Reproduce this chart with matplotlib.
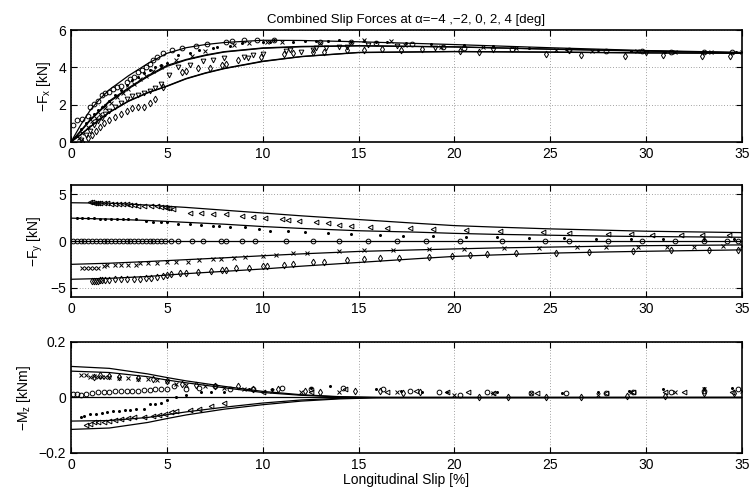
import matplotlib
matplotlib.use("Agg")
import matplotlib.pyplot as plt

plt.rcParams['font.family'] = ['Liberation Sans', 'DejaVu Sans']
plt.rcParams['mathtext.fontset'] = 'custom'
plt.rcParams['mathtext.rm'] = 'Liberation Sans'

# ---- model curves (slip [%] -> value) ----
fx_grid = [0, 0.5, 1, 1.5, 2, 3, 4, 5, 6, 7, 8, 10, 12, 15, 20, 25, 30, 35]
fx_a0 = [0, 0.9, 1.7, 2.3, 2.8, 3.55, 4.2, 4.75, 5.05, 5.22, 5.33, 5.45, 5.44, 5.37, 5.22, 5.05, 4.9, 4.8]
fx_a2 = [0, 0.6, 1.2, 1.7, 2.2, 2.9, 3.55, 4.1, 4.42, 4.66, 4.84, 5.04, 5.12, 5.16, 5.1, 4.98, 4.88, 4.78]
fx_am2 = [0, 0.55, 1.15, 1.65, 2.15, 2.85, 3.5, 4.05, 4.39, 4.63, 4.82, 5.02, 5.1, 5.15, 5.09, 4.97, 4.87, 4.78]
fx_a4 = [0, 0.4, 0.82, 1.22, 1.6, 2.2, 2.65, 3.0, 3.4, 3.7, 3.95, 4.33, 4.58, 4.8, 4.85, 4.82, 4.78, 4.76]
fx_am4 = [0, 0.38, 0.8, 1.2, 1.58, 2.18, 2.63, 2.98, 3.38, 3.68, 3.93, 4.31, 4.57, 4.79, 4.84, 4.81, 4.77, 4.75]

fy_grid = [0, 2, 4, 6, 8, 10, 12, 15, 18, 20, 22, 25, 28, 30, 35]
fy_a4 = [4.1, 4.05, 3.85, 3.6, 3.3, 3.0, 2.7, 2.3, 1.9, 1.65, 1.5, 1.3, 1.15, 1.05, 0.9]
fy_a2 = [2.45, 2.35, 2.2, 2.0, 1.8, 1.55, 1.35, 1.1, 0.95, 0.82, 0.72, 0.62, 0.52, 0.48, 0.4]
fy_a0 = [0, 0, 0, 0, 0, 0, 0, 0, 0, 0, 0, 0, 0, 0, 0]
fy_am2 = [-2.5, -2.38, -2.2, -2.0, -1.8, -1.58, -1.38, -1.12, -0.95, -0.85, -0.75, -0.65, -0.55, -0.5, -0.42]
fy_am4 = [-4.1, -4.0, -3.8, -3.5, -3.25, -3.0, -2.7, -2.3, -1.9, -1.65, -1.5, -1.3, -1.17, -1.1, -0.95]

mz_grid = [0, 2, 4, 5, 6, 8, 10, 12, 14, 16, 35]
mz_am4 = [0.112, 0.105, 0.085, 0.072, 0.06, 0.04, 0.022, 0.01, 0.003, 0.0, 0.0]
mz_am2 = [0.095, 0.09, 0.075, 0.063, 0.053, 0.035, 0.018, 0.008, 0.002, 0.0, 0.0]
mz_a0 = [0, 0, 0, 0, 0, 0, 0, 0, 0, 0, 0]
mz_a2 = [-0.085, -0.083, -0.072, -0.062, -0.052, -0.035, -0.02, -0.009, -0.003, 0.0, 0.0]
mz_a4 = [-0.115, -0.11, -0.09, -0.076, -0.063, -0.042, -0.026, -0.013, -0.005, -0.001, 0.0]

# ---- measurements ----
fx_o_x = [0.1, 0.3, 0.6, 0.9, 1.0, 1.2, 1.4, 1.6, 1.8, 2.0, 2.2, 2.4, 2.6, 2.9, 3.1, 3.3, 3.5, 3.7, 3.9, 4.1, 4.3, 4.5, 4.8, 5.25, 5.8, 6.5, 7.1, 8.1, 8.4, 9.0, 9.7, 10.6, 13.0, 14.6, 15.9, 17.8, 19.4, 20.5, 23.0, 26.0, 27.9, 29.8, 31.3, 33.0, 34.5]
fx_o_y = [0.9, 1.2, 1.25, 1.4, 1.9, 2.05, 2.2, 2.5, 2.6, 2.7, 2.85, 2.95, 3.0, 3.2, 3.35, 3.5, 3.75, 3.85, 4.0, 4.2, 4.4, 4.55, 4.75, 4.93, 5.02, 5.16, 5.23, 5.37, 5.41, 5.46, 5.46, 5.46, 5.37, 5.37, 5.29, 5.23, 5.1, 5.05, 4.98, 4.93, 4.89, 4.89, 4.84, 4.8, 4.8]
fx_dot_x = [0.3, 0.5, 0.8, 1.0, 1.2, 1.4, 1.6, 1.8, 2.0, 2.3, 2.6, 2.9, 3.2, 3.5, 3.8, 4.1, 4.4, 4.7, 5.0, 5.6, 6.2, 6.7, 7.4, 7.6, 8.3, 8.9, 10.0, 10.4, 10.6, 11.6, 12.2, 12.8, 13.4, 14.0, 14.6, 15.3, 15.9, 16.5, 17.5, 18.8, 20.5, 22.0, 23.9, 25.8, 27.5, 29.2, 31.0, 32.9, 34.7]
fx_dot_y = [0.3, 0.7, 1.0, 1.3, 1.5, 1.7, 1.85, 2.0, 2.2, 2.5, 2.8, 3.05, 3.3, 3.5, 3.7, 3.85, 4.0, 4.1, 4.25, 4.66, 4.75, 4.93, 5.02, 5.1, 5.16, 5.29, 5.37, 5.37, 5.46, 5.37, 5.41, 5.41, 5.41, 5.46, 5.37, 5.41, 5.37, 5.37, 5.3, 5.25, 5.2, 5.12, 5.05, 5.0, 4.92, 4.88, 4.82, 4.82, 4.82]
fx_x_x = [0.4, 0.6, 0.9, 1.1, 1.3, 1.5, 1.8, 2.1, 2.4, 2.7, 3.0, 3.3, 3.6, 3.9, 4.3, 4.7, 5.5, 6.3, 7.0, 8.5, 9.3, 10.2, 11.0, 13.0, 15.3, 16.7, 17.4, 19.3, 21.5, 23.2, 25.3, 27.2, 29.5, 31.5, 33.4, 35.0]
fx_x_y = [0.2, 0.5, 0.8, 1.1, 1.3, 1.5, 1.8, 2.1, 2.4, 2.6, 2.85, 3.1, 3.35, 3.55, 3.8, 4.0, 4.4, 4.6, 4.85, 5.2, 5.29, 5.37, 5.35, 5.3, 5.46, 5.4, 5.2, 5.1, 5.08, 5.05, 4.95, 4.9, 4.85, 4.82, 4.8, 4.82]
fx_v_x = [0.5, 0.8, 1.0, 1.2, 1.4, 1.6, 1.8, 2.0, 2.3, 2.6, 2.9, 3.2, 3.5, 3.8, 4.1, 4.4, 4.7, 5.1, 5.6, 6.2, 6.9, 7.4, 8.0, 9.0, 9.25, 9.5, 10.0, 11.2, 11.4, 12.0, 12.6, 12.8, 13.3, 14.0, 14.4, 15.5, 17.0, 19.0, 22.0, 26.0, 30.0]
fx_v_y = [0.1, 0.4, 0.6, 0.9, 1.1, 1.3, 1.5, 1.65, 1.9, 2.1, 2.3, 2.45, 2.5, 2.6, 2.75, 2.9, 3.1, 3.59, 4.03, 4.12, 4.34, 4.39, 4.48, 4.57, 4.48, 4.66, 4.7, 4.87, 4.93, 4.84, 4.93, 5.02, 5.02, 5.1, 5.1, 5.2, 5.15, 5.05, 4.95, 4.85, 4.78]
fx_d_x = [0.6, 0.9, 1.1, 1.3, 1.5, 1.7, 2.0, 2.3, 2.6, 2.9, 3.2, 3.5, 3.8, 4.1, 4.4, 4.8, 5.8, 6.0, 6.6, 7.25, 7.9, 8.1, 8.7, 9.9, 11.1, 11.6, 12.6, 13.2, 14.4, 15.3, 16.2, 17.2, 18.3, 20.3, 21.3, 24.8, 26.6, 28.9, 30.9, 32.9, 34.4]
fx_d_y = [0.0, 0.2, 0.4, 0.6, 0.8, 1.0, 1.2, 1.35, 1.5, 1.65, 1.8, 1.85, 1.9, 2.1, 2.3, 2.96, 3.77, 3.8, 3.95, 3.98, 4.12, 4.16, 4.39, 4.57, 4.7, 4.75, 4.84, 4.84, 4.93, 4.93, 4.98, 4.93, 4.96, 4.89, 4.8, 4.71, 4.66, 4.6, 4.66, 4.6, 4.6]

fy_t_x = [1.0, 1.1, 1.2, 1.3, 1.4, 1.5, 1.7, 1.9, 2.1, 2.3, 2.5, 2.7, 2.9, 3.1, 3.3, 3.5, 3.8, 4.2, 4.5, 4.7, 4.9, 5.0, 5.1, 5.3, 6.2, 6.8, 7.4, 8.1, 8.9, 9.5, 10.1, 11.0, 11.3, 11.9, 12.8, 13.4, 14.0, 14.6, 15.6, 16.5, 17.7, 18.9, 20.6, 22.4, 24.6, 26.0, 28.0, 29.2, 30.3, 31.8, 32.9, 34.3]
fy_t_y = [4.15, 4.15, 4.12, 4.12, 4.1, 4.1, 4.05, 4.05, 4.0, 4.0, 3.98, 3.95, 3.95, 3.9, 3.85, 3.8, 3.8, 3.75, 3.7, 3.65, 3.6, 3.55, 3.5, 3.45, 2.95, 2.95, 2.92, 2.9, 2.66, 2.59, 2.48, 2.41, 2.3, 2.16, 1.99, 1.88, 1.74, 1.6, 1.52, 1.42, 1.35, 1.24, 1.17, 1.06, 0.92, 0.89, 0.74, 0.74, 0.67, 0.64, 0.6, 0.6]
fy_dot_x = [0.3, 0.6, 0.9, 1.2, 1.5, 1.8, 2.1, 2.4, 2.7, 3.0, 3.4, 3.9, 4.3, 4.7, 5.0, 5.6, 6.2, 6.8, 7.4, 7.7, 8.3, 9.1, 9.8, 10.4, 11.3, 12.2, 13.4, 14.6, 16.1, 17.3, 18.9, 20.6, 22.2, 23.9, 25.7, 27.4, 29.2, 30.9, 33.0, 34.6]
fy_dot_y = [2.45, 2.45, 2.42, 2.42, 2.4, 2.4, 2.38, 2.38, 2.36, 2.35, 2.33, 2.1, 2.08, 2.05, 2.0, 1.81, 1.77, 1.7, 1.6, 1.6, 1.5, 1.46, 1.24, 1.1, 1.03, 0.96, 0.85, 0.74, 0.64, 0.57, 0.53, 0.46, 0.39, 0.32, 0.28, 0.25, 0.25, 0.21, 0.21, 0.21]
fy_o_x = [0.1, 0.3, 0.5, 0.7, 0.9, 1.1, 1.3, 1.5, 1.7, 1.9, 2.1, 2.3, 2.5, 2.7, 2.9, 3.1, 3.3, 3.5, 3.7, 3.9, 4.1, 4.3, 4.5, 4.7, 4.9, 5.2, 5.6, 6.3, 6.9, 7.8, 8.1, 8.9, 9.6, 11.2, 12.6, 14.0, 15.5, 17.0, 18.5, 20.3, 22.5, 24.7, 26.0, 28.0, 29.8, 31.5, 33.0, 34.2, 34.8]
fy_o_y = [-0.05, -0.05, -0.05, -0.05, -0.05, -0.05, -0.05, -0.05, -0.05, -0.05, -0.05, -0.05, -0.05, -0.05, -0.05, -0.05, -0.05, -0.05, -0.05, -0.05, -0.05, -0.05, -0.05, -0.05, -0.05, -0.05, -0.05, -0.05, -0.05, -0.05, -0.05, -0.05, -0.05, -0.05, -0.05, -0.05, -0.05, -0.05, -0.05, -0.05, -0.05, -0.05, -0.05, -0.05, -0.05, -0.05, -0.05, -0.05, -0.05]
fy_x_x = [0.6, 0.8, 1.0, 1.2, 1.4, 1.7, 1.9, 2.3, 2.6, 3.0, 3.4, 3.6, 4.0, 4.5, 5.0, 5.5, 6.1, 6.7, 7.4, 7.8, 8.5, 9.1, 10.0, 10.7, 11.6, 12.3, 14.0, 15.3, 16.8, 18.7, 20.5, 22.6, 24.4, 26.4, 27.9, 29.6, 31.1, 32.5, 34.0, 35.0]
fy_x_y = [-2.84, -2.84, -2.84, -2.84, -2.84, -2.7, -2.62, -2.62, -2.6, -2.58, -2.55, -2.38, -2.38, -2.37, -2.3, -2.2, -2.2, -2.02, -1.91, -1.91, -1.77, -1.74, -1.6, -1.49, -1.31, -1.24, -1.06, -0.96, -0.96, -0.85, -0.85, -0.74, -0.71, -0.67, -0.67, -0.6, -0.6, -0.6, -0.53, -0.53]
fy_d_x = [1.1, 1.2, 1.3, 1.4, 1.5, 1.6, 1.8, 2.0, 2.3, 2.6, 2.9, 3.3, 3.6, 3.9, 4.2, 4.5, 4.8, 5.0, 5.2, 5.7, 6.0, 6.6, 7.3, 7.9, 8.1, 8.6, 9.3, 10.0, 10.2, 11.1, 11.6, 12.6, 13.2, 14.4, 15.3, 16.1, 17.1, 18.7, 19.9, 20.8, 21.7, 23.2, 25.3, 27.0, 29.3, 31.3, 33.3, 34.8]
fy_d_y = [-4.26, -4.26, -4.24, -4.24, -4.22, -4.2, -4.15, -4.15, -4.12, -4.1, -4.05, -4.04, -4.04, -4.0, -3.95, -3.85, -3.75, -3.65, -3.55, -3.44, -3.44, -3.33, -3.26, -3.09, -3.09, -2.91, -2.84, -2.73, -2.73, -2.52, -2.45, -2.27, -2.23, -2.02, -1.95, -1.84, -1.77, -1.67, -1.6, -1.52, -1.42, -1.31, -1.24, -1.17, -1.03, -0.99, -0.96, -0.92]

mz_o_x = [0.1, 0.3, 0.5, 0.8, 1.1, 1.4, 1.7, 2.0, 2.3, 2.6, 2.9, 3.2, 3.5, 3.8, 4.1, 4.4, 4.7, 5.0, 5.4, 6.0, 6.7, 7.5, 8.3, 9.5, 11.0, 12.5, 14.2, 16.3, 17.7, 19.2, 20.3, 21.7, 24.0, 25.8, 27.9, 29.3, 31.3, 33.0, 34.8]
mz_o_y = [0.012, 0.012, 0.01, 0.012, 0.015, 0.018, 0.02, 0.02, 0.022, 0.022, 0.024, 0.025, 0.025, 0.027, 0.028, 0.03, 0.03, 0.032, 0.04, 0.03, 0.035, 0.04, 0.03, 0.03, 0.035, 0.03, 0.035, 0.03, 0.025, 0.02, 0.01, 0.02, 0.015, 0.015, 0.015, 0.02, 0.02, 0.025, 0.03]
mz_dot_x = [0.5, 0.7, 1.0, 1.3, 1.6, 1.9, 2.2, 2.5, 2.8, 3.1, 3.4, 3.8, 4.1, 4.4, 4.7, 5.0, 5.5, 6.0, 6.8, 7.3, 8.0, 9.3, 10.5, 12.5, 13.5, 15.9, 17.2, 18.3, 19.6, 22.2, 25.6, 27.5, 29.1, 30.9, 33.0, 34.5]
mz_dot_y = [-0.07, -0.065, -0.06, -0.058, -0.055, -0.052, -0.05, -0.048, -0.045, -0.045, -0.04, -0.04, -0.025, -0.022, -0.02, -0.01, 0.0, 0.01, 0.02, 0.02, 0.02, 0.03, 0.03, 0.035, 0.04, 0.03, 0.025, 0.02, 0.02, 0.02, 0.015, 0.02, 0.025, 0.03, 0.035, 0.035]
mz_x_x = [0.5, 0.8, 1.0, 1.2, 1.4, 1.6, 1.8, 2.0, 2.5, 3.0, 3.5, 4.0, 4.5, 5.0, 5.5, 6.0, 7.0, 8.0, 9.0, 10.5, 12.0, 14.0, 17.0, 20.0, 22.0, 24.0, 27.5, 29.2, 31.5, 33.0, 35.0]
mz_x_y = [0.08, 0.08, 0.075, 0.078, 0.075, 0.075, 0.075, 0.075, 0.07, 0.07, 0.068, 0.065, 0.062, 0.058, 0.05, 0.045, 0.04, 0.035, 0.03, 0.025, 0.02, 0.02, 0.02, 0.01, 0.015, 0.015, 0.01, 0.02, 0.02, 0.03, 0.025]
mz_d_x = [1.2, 1.5, 2.0, 2.5, 3.5, 4.3, 5.0, 5.8, 6.5, 7.5, 8.7, 9.5, 10.8, 12.2, 13.0, 14.8, 16.1, 17.3, 18.2, 21.3, 22.8, 24.8, 26.6, 29.0, 31.0, 33.0, 34.6]
mz_d_y = [0.075, 0.08, 0.077, 0.075, 0.07, 0.065, 0.058, 0.05, 0.045, 0.04, 0.04, 0.03, 0.03, 0.025, 0.02, 0.025, 0.025, 0.015, 0.02, 0.0, 0.0, 0.0, 0.0, 0.005, 0.005, 0.015, 0.015]
mz_t_x = [0.8, 1.0, 1.2, 1.4, 1.7, 2.0, 2.3, 2.6, 3.0, 3.3, 3.8, 4.3, 4.6, 4.9, 5.2, 5.5, 6.2, 6.7, 7.3, 8.0, 10.0, 12.5, 14.3, 16.5, 18.0, 19.6, 20.7, 22.0, 24.3, 27.9, 29.3, 31.0, 32.0, 34.5]
mz_t_y = [-0.1, -0.095, -0.09, -0.09, -0.088, -0.085, -0.08, -0.078, -0.075, -0.07, -0.07, -0.065, -0.062, -0.058, -0.052, -0.048, -0.045, -0.04, -0.03, -0.02, 0.02, 0.02, 0.03, 0.02, 0.025, 0.02, 0.02, 0.015, 0.015, 0.015, 0.02, 0.02, 0.02, 0.02]

fig = plt.figure(figsize=(7.51, 4.96), dpi=100)
ax_fx = fig.add_axes([0.0945, 0.7137, 0.8935, 0.2258])
ax_fy = fig.add_axes([0.0945, 0.4012, 0.8935, 0.2258])
ax_mz = fig.add_axes([0.0945, 0.0867, 0.8935, 0.2238])

mk = dict(linestyle='none', color='k', markersize=3.4, markeredgewidth=0.7, fillstyle='none')
dot = dict(linestyle='none', color='k', marker='o', markersize=2.2, markeredgewidth=0)


def style(ax, ylim, yticks, ylabel):
    ax.set_xlim(0, 35)
    ax.set_ylim(*ylim)
    ax.set_yticks(yticks)
    ax.set_xticks([0, 5, 10, 15, 20, 25, 30, 35])
    ax.grid(True, linestyle=(0, (1, 3)), color='k', linewidth=0.5, alpha=0.7)
    ax.tick_params(direction='in', top=True, right=True, length=4, width=0.8, labelsize=10)
    for s in ax.spines.values():
        s.set_linewidth(1.2)
    ax.set_ylabel(ylabel, fontsize=10)


for y in [fx_a0, fx_a2, fx_am2, fx_a4, fx_am4]:
    ax_fx.plot(fx_grid, y, color='k', lw=0.9)
ax_fx.plot(fx_o_x, fx_o_y, marker='o', **mk)
ax_fx.plot(fx_dot_x, fx_dot_y, **dot)
ax_fx.plot(fx_x_x, fx_x_y, marker='x', **mk)
ax_fx.plot(fx_v_x, fx_v_y, marker='v', **mk)
ax_fx.plot(fx_d_x, fx_d_y, marker='d', **mk)
style(ax_fx, (0, 6), [0, 2, 4, 6], '−F$_\\mathregular{x}$ [kN]')
ax_fx.set_title('Combined Slip Forces at α=−4 ,−2, 0, 2, 4 [deg]', fontsize=9.5, pad=5)

for y in [fy_a4, fy_a2, fy_a0, fy_am2, fy_am4]:
    ax_fy.plot(fy_grid, y, color='k', lw=0.9)
ax_fy.plot(fy_t_x, fy_t_y, marker='<', **mk)
ax_fy.plot(fy_dot_x, fy_dot_y, **dot)
ax_fy.plot(fy_o_x, fy_o_y, marker='o', **mk)
ax_fy.plot(fy_x_x, fy_x_y, marker='x', **mk)
ax_fy.plot(fy_d_x, fy_d_y, marker='d', **mk)
style(ax_fy, (-6, 6), [-5, 0, 5], '−F$_\\mathregular{y}$ [kN]')

for y in [mz_am4, mz_am2, mz_a0, mz_a2, mz_a4]:
    ax_mz.plot(mz_grid, y, color='k', lw=0.9)
ax_mz.plot(mz_o_x, mz_o_y, marker='o', **mk)
ax_mz.plot(mz_dot_x, mz_dot_y, **dot)
ax_mz.plot(mz_x_x, mz_x_y, marker='x', **mk)
ax_mz.plot(mz_d_x, mz_d_y, marker='d', **mk)
ax_mz.plot(mz_t_x, mz_t_y, marker='<', **mk)
style(ax_mz, (-0.2, 0.2), [-0.2, 0, 0.2], '−M$_\\mathregular{z}$ [kNm]')
ax_mz.set_yticklabels(['−0.2', '0', '0.2'])
ax_mz.set_xlabel('Longitudinal Slip [%]', fontsize=10, labelpad=1)

fig.savefig('out.png', dpi=100)
